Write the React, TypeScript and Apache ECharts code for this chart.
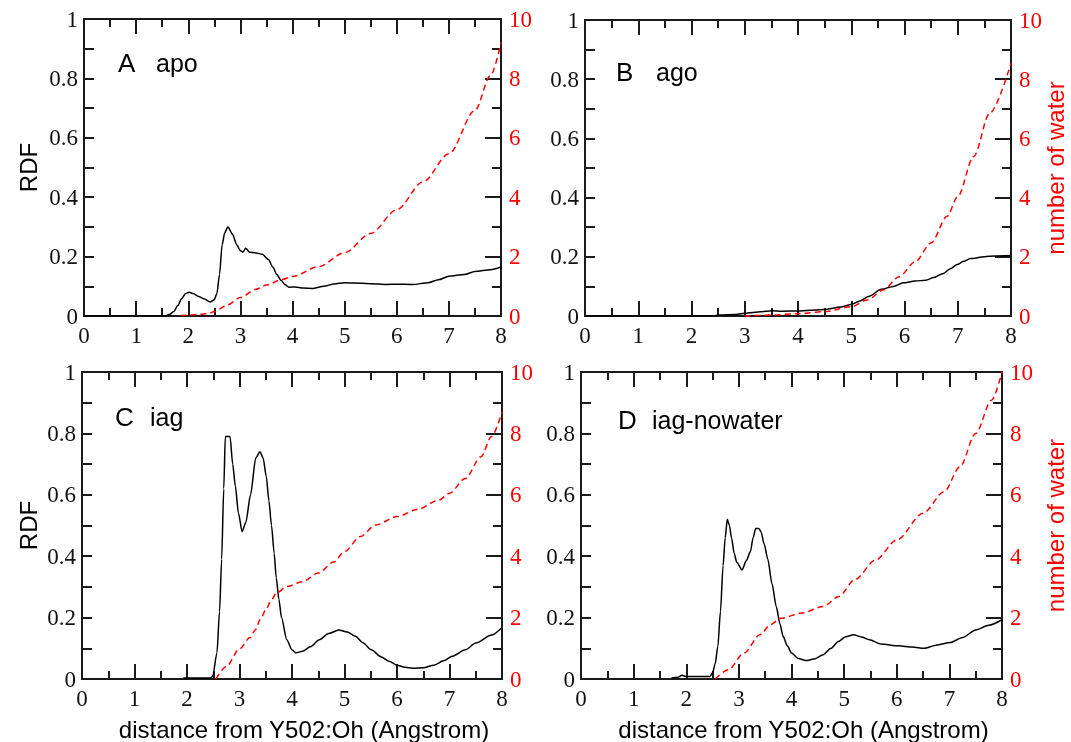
import React, { useEffect, useRef } from "react";
import * as echarts from "echarts";

// Radial distribution (RDF, left axis) and running count of waters (right axis)
// around Y502:Oh for four systems.

const apoRdf: [number, number][] = [
  [0, 0], [1.55, 0], [1.65, 0.006], [1.72, 0.015], [1.8, 0.035], [1.87, 0.058], [1.95, 0.076], [2.02, 0.08],
  [2.1, 0.075], [2.2, 0.066], [2.3, 0.058], [2.42, 0.047], [2.5, 0.055], [2.55, 0.076], [2.6, 0.14],
  [2.65, 0.24], [2.7, 0.28], [2.76, 0.3], [2.85, 0.275], [2.93, 0.24], [3.0, 0.22], [3.05, 0.215],
  [3.1, 0.228], [3.18, 0.215], [3.3, 0.212], [3.42, 0.208], [3.54, 0.19], [3.62, 0.165], [3.7, 0.14],
  [3.78, 0.12], [3.86, 0.105], [3.93, 0.097], [4.05, 0.098], [4.2, 0.094], [4.4, 0.093], [4.6, 0.1],
  [4.8, 0.108], [5.0, 0.112], [5.2, 0.111], [5.5, 0.109], [5.8, 0.106], [6.0, 0.107], [6.3, 0.106],
  [6.6, 0.112], [6.8, 0.122], [7.0, 0.134], [7.3, 0.14], [7.5, 0.15], [7.8, 0.156], [8.0, 0.165],
];
const apoWater: [number, number][] = [
  [1.85, 0.02], [2.0, 0.03], [2.2, 0.05], [2.4, 0.09], [2.5, 0.15], [2.75, 0.37], [3.0, 0.62],
  [3.3, 0.9], [3.5, 1.04], [3.8, 1.23], [4.0, 1.33], [4.5, 1.66], [5.0, 2.13], [5.5, 2.78],
  [6.0, 3.58], [6.5, 4.51], [7.0, 5.46], [7.5, 6.92], [7.8, 8.1], [8.0, 9.2],
];

const agoRdf: [number, number][] = [
  [0, 0], [2.43, 0], [2.5, 0.003], [2.8, 0.005], [3.0, 0.009], [3.3, 0.014], [3.5, 0.018],
  [3.7, 0.016], [4.0, 0.017], [4.5, 0.022], [4.8, 0.03], [5.0, 0.039], [5.15, 0.05], [5.34, 0.067],
  [5.56, 0.09], [5.79, 0.1], [5.98, 0.112], [6.2, 0.118], [6.4, 0.121], [6.55, 0.13], [6.73, 0.144],
  [6.86, 0.16], [6.99, 0.174], [7.1, 0.184], [7.24, 0.194], [7.5, 0.2], [7.7, 0.203], [8.0, 0.204],
];
const agoWater: [number, number][] = [
  [3.0, 0], [3.5, 0.03], [4.0, 0.08], [4.5, 0.15], [5.0, 0.31], [5.3, 0.54], [5.6, 0.88],
  [5.9, 1.33], [6.2, 1.83], [6.5, 2.47], [6.8, 3.37], [7.0, 4.04], [7.3, 5.39], [7.6, 6.85], [8.0, 8.54],
];

const iagRdf: [number, number][] = [
  [1.93, 0.003], [2.45, 0.003], [2.49, 0.009], [2.57, 0.085], [2.62, 0.22], [2.66, 0.39], [2.7, 0.62],
  [2.73, 0.79], [2.82, 0.79], [2.87, 0.7], [2.92, 0.63], [2.98, 0.54], [3.05, 0.48], [3.12, 0.51],
  [3.21, 0.6], [3.31, 0.72], [3.39, 0.74], [3.45, 0.72], [3.51, 0.66], [3.56, 0.58], [3.61, 0.5],
  [3.66, 0.41], [3.7, 0.33], [3.75, 0.26], [3.8, 0.2], [3.9, 0.128], [4.0, 0.095], [4.07, 0.085],
  [4.2, 0.09], [4.35, 0.105], [4.52, 0.128], [4.7, 0.148], [4.89, 0.16], [5.05, 0.153], [5.21, 0.139],
  [5.35, 0.118], [5.51, 0.095], [5.7, 0.072], [5.85, 0.058], [6.0, 0.045], [6.15, 0.038], [6.3, 0.035],
  [6.5, 0.037], [6.7, 0.045], [6.9, 0.06], [7.05, 0.074], [7.3, 0.095], [7.5, 0.117], [7.8, 0.143], [8.0, 0.168],
];
const iagWater: [number, number][] = [
  [2.55, 0], [2.75, 0.41], [3.0, 0.98], [3.2, 1.35], [3.3, 1.6], [3.4, 1.95], [3.5, 2.25], [3.6, 2.55],
  [3.7, 2.8], [3.9, 3.01], [4.2, 3.17], [4.5, 3.45], [4.8, 3.82], [5.0, 4.15], [5.3, 4.64], [5.6, 5.02],
  [6.0, 5.29], [6.4, 5.53], [6.8, 5.83], [7.0, 6.05], [7.3, 6.53], [7.6, 7.24], [7.8, 7.9], [8.0, 8.7],
];

const nowaterRdf: [number, number][] = [
  [1.72, 0.003], [1.85, 0.006], [1.92, 0.012], [2.0, 0.008], [2.45, 0.008], [2.5, 0.02], [2.55, 0.05],
  [2.6, 0.106], [2.65, 0.22], [2.7, 0.37], [2.74, 0.46], [2.78, 0.52], [2.82, 0.5], [2.86, 0.46],
  [2.91, 0.41], [2.96, 0.38], [3.06, 0.355], [3.14, 0.385], [3.22, 0.415], [3.27, 0.46], [3.32, 0.49],
  [3.38, 0.49], [3.42, 0.48], [3.48, 0.44], [3.55, 0.39], [3.63, 0.31], [3.71, 0.236], [3.78, 0.18],
  [3.84, 0.139], [3.92, 0.108], [4.0, 0.085], [4.13, 0.067], [4.27, 0.06], [4.45, 0.066], [4.6, 0.079],
  [4.75, 0.1], [4.89, 0.122], [5.03, 0.138], [5.18, 0.144], [5.33, 0.137], [5.48, 0.128], [5.7, 0.114],
  [6.03, 0.108], [6.3, 0.104], [6.52, 0.1], [6.75, 0.11], [7.02, 0.119], [7.25, 0.135], [7.5, 0.16],
  [7.75, 0.175], [8.0, 0.193],
];
const nowaterWater: [number, number][] = [
  [2.55, 0], [2.8, 0.3], [3.1, 0.85], [3.4, 1.44], [3.6, 1.77], [3.8, 1.98], [4.2, 2.15], [4.6, 2.36],
  [4.9, 2.69], [5.2, 3.23], [5.6, 3.88], [6.0, 4.53], [6.5, 5.4], [6.9, 6.1], [7.2, 6.91], [7.5, 8.0],
  [7.8, 9.08], [8.0, 10.0],
];

// Axis ranges
const xRange = [0, 8];
const rdfRange = [0, 1];
const waterRange = [0, 10];

const xTitle = "distance from Y502:Oh (Angstrom)";

interface Panel {
  letter: string;
  name: string;
  rdf: [number, number][];
  water: [number, number][];
  grid: { left: number; top: number; width: number; height: number };
  letterAt: [number, number];
  nameAt: [number, number];
  leftTitle: boolean;
  rightTitle: boolean;
  bottomTitle: boolean;
}

const panels: Panel[] = [
  { letter: "A", name: "apo", rdf: apoRdf, water: apoWater,
    grid: { left: 84, top: 19, width: 417, height: 297 }, letterAt: [118, 63], nameAt: [156, 63],
    leftTitle: true, rightTitle: false, bottomTitle: false },
  { letter: "B", name: "ago", rdf: agoRdf, water: agoWater,
    grid: { left: 585, top: 20, width: 426, height: 296 }, letterAt: [616, 72], nameAt: [656, 72],
    leftTitle: false, rightTitle: true, bottomTitle: false },
  { letter: "C", name: "iag", rdf: iagRdf, water: iagWater,
    grid: { left: 82, top: 372, width: 420, height: 307 }, letterAt: [115, 417], nameAt: [150, 417],
    leftTitle: true, rightTitle: false, bottomTitle: true },
  { letter: "D", name: "iag-nowater", rdf: nowaterRdf, water: nowaterWater,
    grid: { left: 581, top: 372, width: 421, height: 307 }, letterAt: [618, 420], nameAt: [652, 420],
    leftTitle: false, rightTitle: true, bottomTitle: true },
];

const AXIS_COLOR = "#1a1a1a";
const RED = "#ff0000";
const SERIF = "Liberation Serif";
const SANS = "Liberation Sans";

const line = () => ({ show: true, onZero: false, lineStyle: { color: AXIS_COLOR, width: 2 } });
const tick = (length: number) => ({ show: true, inside: true, length, lineStyle: { color: AXIS_COLOR, width: 2 } });
const minor = (length: number) => ({ show: true, splitNumber: 2, length, lineStyle: { color: AXIS_COLOR, width: 2 } });
const label = (color: string, margin: number) => ({
  show: true, margin, color, fontFamily: SERIF, fontSize: 23,
});

function buildOption() {
  const grid: any[] = [];
  const xAxis: any[] = [];
  const yAxis: any[] = [];
  const series: any[] = [];
  const graphic: any[] = [];

  panels.forEach((p, i) => {
    grid.push({ left: p.grid.left, top: p.grid.top, width: p.grid.width, height: p.grid.height });

    xAxis.push({
      type: "value", gridIndex: i, position: "bottom", min: xRange[0], max: xRange[1], interval: 1,
      axisLine: line(), axisTick: tick(15), minorTick: minor(8), splitLine: { show: false },
      axisLabel: label("#111", 8),
    });
    xAxis.push({
      type: "value", gridIndex: i, position: "top", min: xRange[0], max: xRange[1], interval: 1,
      axisLine: line(), axisTick: tick(15), minorTick: minor(8), splitLine: { show: false },
      axisLabel: { show: false },
    });
    yAxis.push({
      type: "value", gridIndex: i, position: "left", min: rdfRange[0], max: rdfRange[1], interval: 0.2,
      axisLine: line(), axisTick: tick(10), minorTick: minor(10), splitLine: { show: false },
      axisLabel: label("#111", 6),
    });
    yAxis.push({
      type: "value", gridIndex: i, position: "right", min: waterRange[0], max: waterRange[1], interval: 2,
      axisLine: line(), axisTick: tick(16), minorTick: minor(9), splitLine: { show: false },
      axisLabel: label(RED, 8),
    });

    series.push({
      type: "line", xAxisIndex: 2 * i, yAxisIndex: 2 * i, data: p.rdf,
      showSymbol: false, smooth: 0.25, smoothMonotone: "x",
      lineStyle: { color: "#000", width: 1.5 },
    });
    series.push({
      type: "line", xAxisIndex: 2 * i, yAxisIndex: 2 * i + 1, data: p.water,
      showSymbol: false, smooth: 0.3, smoothMonotone: "x",
      lineStyle: { color: RED, width: 1.5, type: [6, 4] },
    });

    graphic.push({
      type: "text", x: p.letterAt[0], y: p.letterAt[1],
      style: { text: p.letter, fontFamily: SANS, fontSize: 26, fill: "#000", verticalAlign: "middle", align: "left" },
    });
    graphic.push({
      type: "text", x: p.nameAt[0], y: p.nameAt[1],
      style: { text: p.name, fontFamily: SANS, fontSize: 25, fill: "#000", verticalAlign: "middle", align: "left" },
    });
    const cy = p.grid.top + p.grid.height / 2;
    if (p.leftTitle) {
      graphic.push({
        type: "text", x: 28, y: cy, rotation: Math.PI / 2,
        style: { text: "RDF", fontFamily: SANS, fontSize: 24, fill: "#000", align: "center", verticalAlign: "middle" },
      });
    }
    if (p.rightTitle) {
      graphic.push({
        type: "text", x: 1055, y: cy, rotation: Math.PI / 2,
        style: { text: "number of water", fontFamily: SANS, fontSize: 24, fill: RED, align: "center", verticalAlign: "middle" },
      });
    }
    if (p.bottomTitle) {
      graphic.push({
        type: "text", x: p.grid.left + p.grid.width / 2 + 12, y: 729,
        style: { text: xTitle, fontFamily: SANS, fontSize: 24, fill: "#000", align: "center", verticalAlign: "middle" },
      });
    }
  });

  return { animation: false, textStyle: { fontFamily: SERIF }, grid, xAxis, yAxis, series, graphic };
}

export default function App() {
  const ref = useRef<HTMLDivElement>(null);
  useEffect(() => {
    if (!ref.current) return;
    const chart = echarts.init(ref.current, undefined, { renderer: "svg" });
    chart.setOption(buildOption() as any);
    return () => chart.dispose();
  }, []);
  return <div ref={ref} style={{ position: "fixed", left: 0, top: 0, width: 1071, height: 742 }} />;
}
